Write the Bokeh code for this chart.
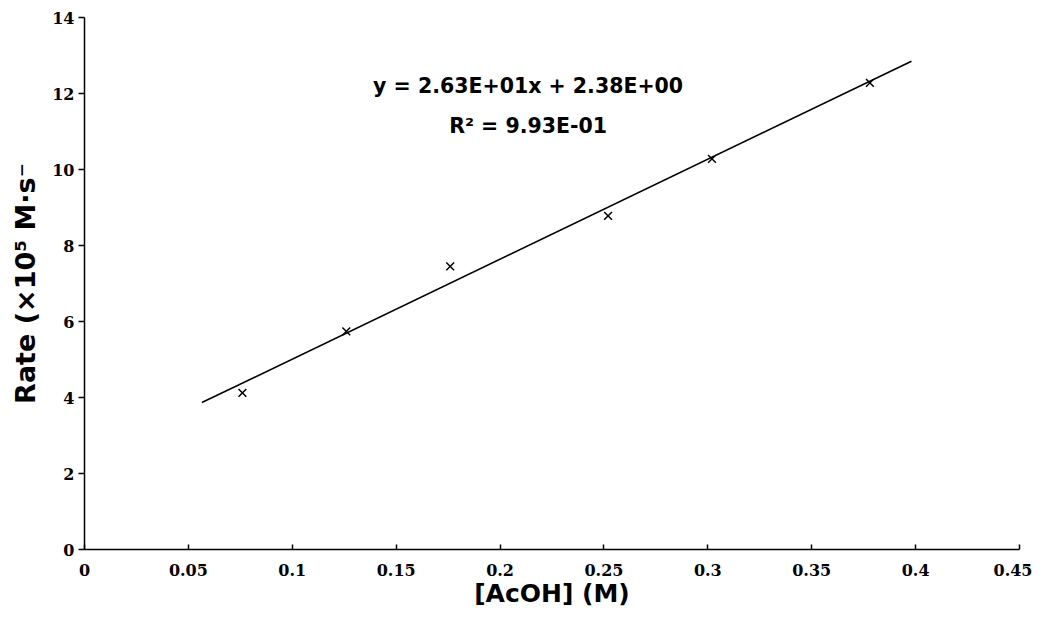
from bokeh.plotting import figure
from bokeh.models import Range1d, FixedTicker
from bokeh.core.properties import value
from bokeh.embed import file_html
from bokeh.resources import INLINE

# Data
acoh = [0.076, 0.126, 0.176, 0.252, 0.302, 0.378]
rate = [4.12, 5.74, 7.45, 8.78, 10.28, 12.28]

# Linear trendline (as reported on the chart)
slope = 26.3
intercept = 2.38
trend_x = [0.0565, 0.398]
trend_y = [slope * x + intercept for x in trend_x]

eq_text = ["y = 2.63E+01x + 2.38E+00", "R\u00b2 = 9.93E-01"]
eq_x = [0.2135, 0.2135]
eq_y = [12.19, 11.14]

x_ticks = [0, 0.05, 0.1, 0.15, 0.2, 0.25, 0.3, 0.35, 0.4, 0.45]
y_ticks = [0, 2, 4, 6, 8, 10, 12, 14]

x_title = "[AcOH] (M)"
y_title = "Rate (\u00d710\u2075 M\u00b7s\u207b"

p = figure(width=1032, height=610, output_backend="svg", toolbar_location=None,
           x_range=Range1d(0, 0.45), y_range=Range1d(0, 14),
           min_border_left=84, min_border_right=13, min_border_top=17, min_border_bottom=59)
p.outline_line_color = None
p.xgrid.visible = False
p.ygrid.visible = False
p.background_fill_color = "white"

p.line(trend_x, trend_y, line_color="black", line_width=1.6)
p.scatter(acoh, rate, marker="x", size=11, line_color="black", line_width=1.5)

p.text(eq_x, eq_y, text=eq_text, text_align="center", text_baseline="middle",
       text_font=value("DejaVu Sans"), text_font_style="bold", text_font_size="20.5px",
       text_color="black")

for ax in (p.xaxis[0], p.yaxis[0]):
    ax.axis_line_color = "black"
    ax.axis_line_width = 1.5
    ax.major_tick_line_color = "black"
    ax.major_tick_line_width = 1.5
    ax.minor_tick_line_color = None
    ax.major_label_text_font = "DejaVu Serif"
    ax.major_label_text_font_style = "bold"
    ax.major_label_text_font_size = "16px"
    ax.major_label_text_color = "black"
    ax.axis_label_text_font = "DejaVu Sans"
    ax.axis_label_text_font_style = "bold"
    ax.axis_label_text_color = "black"

p.xaxis[0].ticker = FixedTicker(ticks=x_ticks)
p.yaxis[0].ticker = FixedTicker(ticks=y_ticks)
p.xaxis[0].major_label_overrides = {t: ("%g" % t) for t in x_ticks}
p.xaxis[0].major_tick_in = 5
p.xaxis[0].major_tick_out = 0
p.xaxis[0].major_label_standoff = 14
p.xaxis[0].axis_label = x_title
p.xaxis[0].axis_label_text_font_size = "25px"
p.xaxis[0].axis_label_standoff = 0
p.yaxis[0].major_tick_in = 0
p.yaxis[0].major_tick_out = 6
p.yaxis[0].major_label_standoff = 4
p.yaxis[0].axis_label = y_title
p.yaxis[0].axis_label_text_font_size = "27px"
p.yaxis[0].axis_label_standoff = 8

open("out.html", "w").write(file_html(p, INLINE))
